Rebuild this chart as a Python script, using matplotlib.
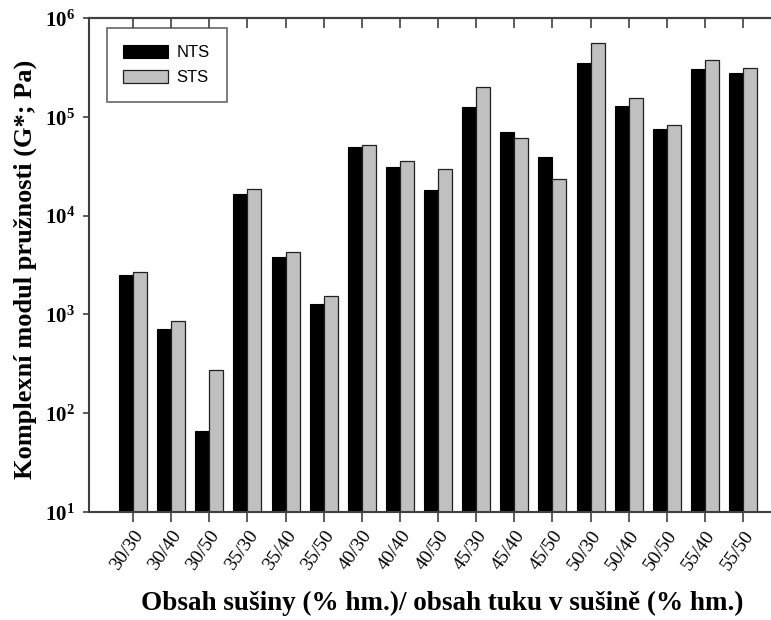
import matplotlib
matplotlib.use("Agg")
import matplotlib.pyplot as plt
import numpy as np

plt.rcParams["mathtext.fontset"] = "custom"
plt.rcParams["mathtext.rm"] = "Liberation Serif:bold"
plt.rcParams["mathtext.bf"] = "Liberation Serif:bold"

categories = ["30/30", "30/40", "30/50", "35/30", "35/40", "35/50", "40/30", "40/40",
              "40/50", "45/30", "45/40", "45/50", "50/30", "50/40", "50/50", "55/40", "55/50"]
nts = [2490, 706, 66.5, 16550, 3785, 1274, 49100, 31270,
       18150, 126500, 69700, 38900, 347600, 129500, 74700, 302000, 275400]
sts = [2690, 863, 272, 18450, 4315, 1549, 51850, 35960,
       29400, 200400, 61500, 23650, 554000, 155000, 83200, 372600, 314000]
series_names = ["NTS", "STS"]
ytick_values = [1e1, 1e2, 1e3, 1e4, 1e5, 1e6]
ytick_labels = [r"$\mathbf{10^{1}}$", r"$\mathbf{10^{2}}$", r"$\mathbf{10^{3}}$",
                r"$\mathbf{10^{4}}$", r"$\mathbf{10^{5}}$", r"$\mathbf{10^{6}}$"]
xlabel = "Obsah sušiny (% hm.)/ obsah tuku v sušině (% hm.)"
ylabel = "Komplexní modul pružnosti (G*; Pa)"

W, H = 771, 620
fig = plt.figure(figsize=(W / 100, H / 100), dpi=100)
L, R, T, B = 89, 771, 18, 512
ax = fig.add_axes([L / W, 1 - B / H, (R - L) / W, (B - T) / H])

x = np.arange(len(categories))
bw = 0.367
spine_col = "#404040"
ax.bar(x - bw / 2, nts, width=bw, color="black", edgecolor="black", linewidth=0.8,
       label=series_names[0])
ax.bar(x + bw / 2, sts, width=bw, color="#c0c0c0", edgecolor="#202020", linewidth=0.9,
       label=series_names[1])

ax.set_yscale("log")
ax.set_ylim(1e1, 1e6)
ax.set_xlim(-1.154, 16.73)
ax.set_yticks(ytick_values)
ax.set_yticklabels(ytick_labels, fontsize=15)
ax.yaxis.set_minor_locator(matplotlib.ticker.NullLocator())
ax.set_xticks(x)
ax.set_xticklabels(categories, rotation=55, ha="right", rotation_mode="anchor",
                   family="Liberation Serif", fontsize=14)
ax.tick_params(axis="x", direction="out", length=7, width=1.2, color=spine_col, pad=4)
ax.tick_params(axis="y", direction="out", length=4, width=1.2, color=spine_col, pad=6)

sec = ax.secondary_xaxis("top")
sec.set_xticks(x)
sec.tick_params(direction="in", length=7, width=1.2, color=spine_col, labeltop=False)
sec.spines["top"].set_color(spine_col)
sec.spines["top"].set_linewidth(1.5)

for s in ["left", "bottom", "top"]:
    ax.spines[s].set_color(spine_col)
    ax.spines[s].set_linewidth(1.5)
ax.spines["right"].set_visible(False)

leg = ax.legend(loc="upper left", bbox_to_anchor=(0.026, 0.98), borderaxespad=0,
                fancybox=False, edgecolor=spine_col, handlelength=2.65, handleheight=0.85,
                handletextpad=0.55, borderpad=1.0, labelspacing=0.6,
                prop={"family": "Liberation Sans", "size": 12})
leg.get_frame().set_linewidth(1.2)

fig.text(25 / W, 1 - 269 / H, ylabel, rotation=90, ha="center", va="center",
         family="Liberation Serif", fontweight="bold", fontsize=19)
fig.text(442 / W, 1 - 603 / H, xlabel, ha="center", va="center",
         family="Liberation Serif", fontweight="bold", fontsize=19.5)

fig.savefig("out.png", dpi=100)
